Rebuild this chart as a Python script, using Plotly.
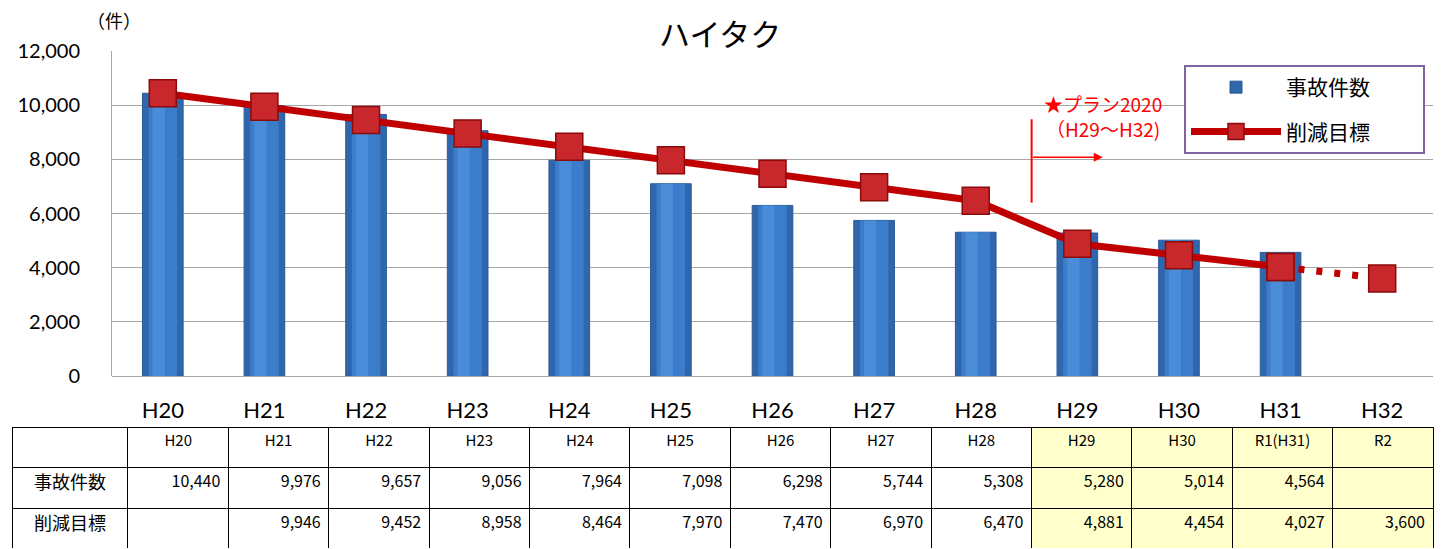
import plotly.graph_objects as go

# ---- data ----
categories = ["H20", "H21", "H22", "H23", "H24", "H25", "H26", "H27", "H28",
              "H29", "H30", "H31", "H32"]
table_headers = ["H20", "H21", "H22", "H23", "H24", "H25", "H26", "H27", "H28",
                 "H29", "H30", "R1(H31)", "R2"]
accidents = [10440, 9976, 9657, 9056, 7964, 7098, 6298, 5744, 5308,
             5280, 5014, 4564, None]
targets = [None, 9946, 9452, 8958, 8464, 7970, 7470, 6970, 6470,
           4881, 4454, 4027, 3600]
row_labels = ["事故件数", "削減目標"]
series_names = ["事故件数", "削減目標"]
title_text = "ハイタク"
unit_text = "（件）"
plan_text = "★プラン2020<br>（H29～H32)"

JP = "Noto Sans CJK JP"
LAT = "Lato, Noto Sans CJK JP"

# line: starts from the H20 actual value, solid to H31, dotted to H32
line_vals = [accidents[0]] + targets[1:12]
line_cats = categories[:12]
dot_cats = categories[11:13]
dot_vals = targets[11:13]

OFF = 8                     # default page body margin
W, H = 1453 - OFF, 549 - OFF
def px(p):                   # page pixel -> figure pixel
    return p - OFF
ML = px(12)
MR = W - px(1433)
plot_w = W - ML - MR
def fx(p):                   # page x pixel -> paper fraction
    return (px(p) - ML) / plot_w
def fy(p):                   # page y pixel -> paper fraction
    return 1 - px(p) / H

fig = go.Figure()

bar_cats = categories[:12]
bar_vals = accidents[:12]
# cylinder-like bars: dark base + lighter centre strips
fig.add_trace(go.Bar(x=bar_cats, y=bar_vals, name=series_names[0] + "\u00a0" * 10, width=0.4,
                     marker=dict(color="#2F66AC", line=dict(color="#2A5A98", width=1)),
                     legendrank=1, legendgroup="a"))
fig.add_trace(go.Bar(x=bar_cats, y=bar_vals, width=0.28, showlegend=False, hoverinfo="skip",
                     marker=dict(color="#3C7DCB", line=dict(width=0))))
fig.add_trace(go.Bar(x=bar_cats, y=bar_vals, width=0.12, offset=-0.1, showlegend=False,
                     hoverinfo="skip", marker=dict(color="#4A8CD8", line=dict(width=0))))

fig.add_trace(go.Scatter(x=dot_cats, y=dot_vals, mode="lines+markers", showlegend=False,
                         line=dict(color="#C00000", width=7, dash="6px,12px"),
                         marker=dict(symbol="square", size=27, color="#C8282C",
                                     line=dict(color="#8B0A0A", width=1.5))))
fig.add_trace(go.Scatter(x=line_cats, y=line_vals, mode="lines+markers",
                         name=series_names[1] + "\u00a0" * 10,
                         line=dict(color="#C00000", width=7),
                         marker=dict(symbol="square", size=27, color="#C8282C",
                                     line=dict(color="#8B0A0A", width=1.5)),
                         legendrank=2, legendgroup="b"))

# table below the chart
def fmt(v):
    return "" if v is None else f"{v:,}"

cols = [row_labels] + [[fmt(a), fmt(t)] for a, t in zip(accidents, targets)]
white, yellow = "white", "#FFFFCC"
fills = [white] * 10 + [yellow] * 4
fig.add_trace(go.Table(
    domain=dict(x=[0, 1], y=[0, fy(427)]),
    columnwidth=[116] + [100.4] * 13,
    header=dict(values=[""] + table_headers, height=40,
                fill=dict(color=fills), line=dict(color="black", width=1),
                align="center", font=dict(family=JP, size=15, color="black")),
    cells=dict(values=cols, height=41,
               fill=dict(color=fills), line=dict(color="black", width=1),
               align=["center"] + ["right"] * 13,
               font=dict(family=JP, size=[18] + [16] * 13, color="black")),
))

fig.update_layout(
    width=W, height=H,
    margin=dict(l=ML, r=MR, t=0, b=0, autoexpand=False),
    paper_bgcolor="white", plot_bgcolor="white",
    barmode="overlay",
    xaxis=dict(domain=[fx(112), 1], type="category", range=[-0.5, 12.5],
               categoryorder="array", categoryarray=categories,
               showgrid=False, showline=False, ticks="", automargin=False,
               tickfont=dict(family=LAT, size=22, color="black"), ticklabelstandoff=19),
    yaxis=dict(domain=[fy(376), fy(51)], range=[0, 12000], dtick=2000, tickformat=",",
               showgrid=True, gridcolor="#A6A6A6", gridwidth=1, automargin=False,
               showline=True, linecolor="#A6A6A6", linewidth=1,
               zeroline=True, zerolinecolor="#A6A6A6", zerolinewidth=1,
               tickfont=dict(family=LAT, size=20, color="black"), ticklabelstandoff=27),
    legend=dict(x=fx(1184), y=fy(65), xanchor="left", yanchor="top",
                bgcolor="white", bordercolor="#8064A2", borderwidth=2,
                font=dict(family=JP, size=21, color="black"), itemwidth=90,
                tracegroupgap=14),
    showlegend=True,
)

# title
fig.add_annotation(text=title_text, x=fx(720), y=fy(32), xref="paper", yref="paper",
                   xanchor="center", yanchor="middle", showarrow=False,
                   font=dict(family=JP, size=31, color="black"))
# unit label
fig.add_annotation(text=unit_text, x=fx(114), y=fy(20), xref="paper", yref="paper",
                   xanchor="center", yanchor="middle", showarrow=False,
                   font=dict(family=JP, size=18, color="black"))

# plan annotation
fig.add_annotation(text=plan_text, x=9.25, y=9590, xref="x", yref="y", showarrow=False,
                   xanchor="center", yanchor="middle",
                   font=dict(family=JP, size=19, color="#FF0000"))
fig.add_shape(type="line", xref="x", yref="y", x0=8.55, x1=8.55, y0=6400, y1=9480,
              line=dict(color="#FF0000", width=2))
fig.add_annotation(x=9.25, y=8074, ax=8.55, ay=8074, xref="x", yref="y", axref="x", ayref="y",
                   text="", showarrow=True, arrowhead=2, arrowsize=1.2, arrowwidth=1.5,
                   arrowcolor="#FF0000")

fig.write_html("out.html")
